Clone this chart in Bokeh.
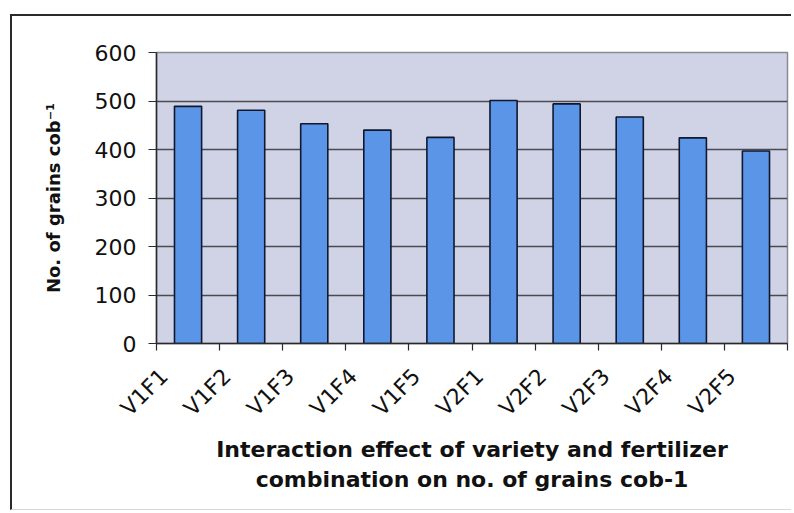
from bokeh.plotting import figure
from bokeh.models import (ColumnDataSource, Range1d, LinearAxis,
                          FixedTicker, Title)
from bokeh.embed import file_html
from bokeh.resources import INLINE

# Grains per cob for each variety x fertilizer combination
combos = ["V1F1", "V1F2", "V1F3", "V1F4", "V1F5",
          "V2F1", "V2F2", "V2F3", "V2F4", "V2F5"]
grains = [489, 481, 453, 440, 425, 501, 494, 467, 424, 397]
y_ticks = [0, 100, 200, 300, 400, 500, 600]

# each combination occupies one unit-wide slot on a numeric x scale
n = len(combos)
centers = [i + 0.5 for i in range(n)]
bounds = list(range(n + 1))
# rotated names are anchored a little left of the slot centre
label_shift = 0.38
label_pos = [c - label_shift for c in centers]

source = ColumnDataSource(dict(x=centers, combo=combos, grains=grains))

# chart box (bordered) inset in the page
p = figure(width=781, height=496, margin=(14, 3, 3, 10),
           x_range=Range1d(0, n), y_range=Range1d(0, 600),
           output_backend="svg", toolbar_location=None,
           x_axis_location=None, y_axis_location="left",
           min_border_left=144, min_border_right=6,
           min_border_top=36, min_border_bottom=169)
p.styles = {"border-left": "2px solid #2a2a2a", "border-top": "2px solid #2a2a2a",
            "border-bottom": "1px solid #d8d8d8"}

# plot area fill vs. surrounding chart area
p.background_fill_color = "#d0d3e6"
p.border_fill_color = "white"
p.outline_line_color = "#8a8a94"
p.outline_line_width = 1.5

p.vbar(x="x", top="grains", width=0.43, source=source,
       fill_color="#5b95e8", line_color="#101830", line_width=1.6)

# horizontal grid
p.xgrid.visible = False
p.ygrid.ticker = FixedTicker(ticks=y_ticks)
p.ygrid.grid_line_color = "#4a4a52"
p.ygrid.grid_line_width = 1.4

# y axis
ya = p.yaxis[0]
ya.ticker = FixedTicker(ticks=y_ticks)
ya.axis_line_color = "#2a2a2a"
ya.axis_line_width = 1.5
ya.major_tick_line_color = "#2a2a2a"
ya.major_tick_in = 0
ya.major_tick_out = 8
ya.minor_tick_line_color = None
ya.major_label_text_font = "DejaVu Sans"
ya.major_label_text_font_size = "22px"
ya.major_label_text_color = "#111111"
ya.major_label_standoff = 12
ya.axis_label = "No. of grains cob\u207b\u00b9"
ya.axis_label_text_font = "DejaVu Sans"
ya.axis_label_text_font_style = "bold"
ya.axis_label_text_font_size = "18px"
ya.axis_label_text_color = "#111111"
ya.axis_label_standoff = 28

# x axis: names near slot centres, tick marks on slot boundaries (minor ticks)
xa = LinearAxis(ticker=FixedTicker(ticks=label_pos, minor_ticks=bounds),
                major_label_overrides={c: name for c, name in zip(label_pos, combos)},
                axis_line_color="#2a2a2a", axis_line_width=1.5,
                major_tick_line_color=None,
                minor_tick_line_color="#2a2a2a", minor_tick_line_width=1.2,
                minor_tick_in=0, minor_tick_out=7,
                major_label_orientation=0.785,
                major_label_text_font="DejaVu Sans",
                major_label_text_font_size="22px",
                major_label_text_color="#111111",
                major_label_standoff=22)
p.add_layout(xa, "below")

# two-line x title
for line, standoff in [("Interaction effect of variety and fertilizer", 5),
                       ("combination on no. of grains cob-1", 0)]:
    p.add_layout(Title(text=line, align="center", text_font="DejaVu Sans",
                       text_font_style="bold", text_font_size="22px",
                       text_color="#111111", standoff=standoff), "below")

open("out.html", "w").write(file_html(p, INLINE))
